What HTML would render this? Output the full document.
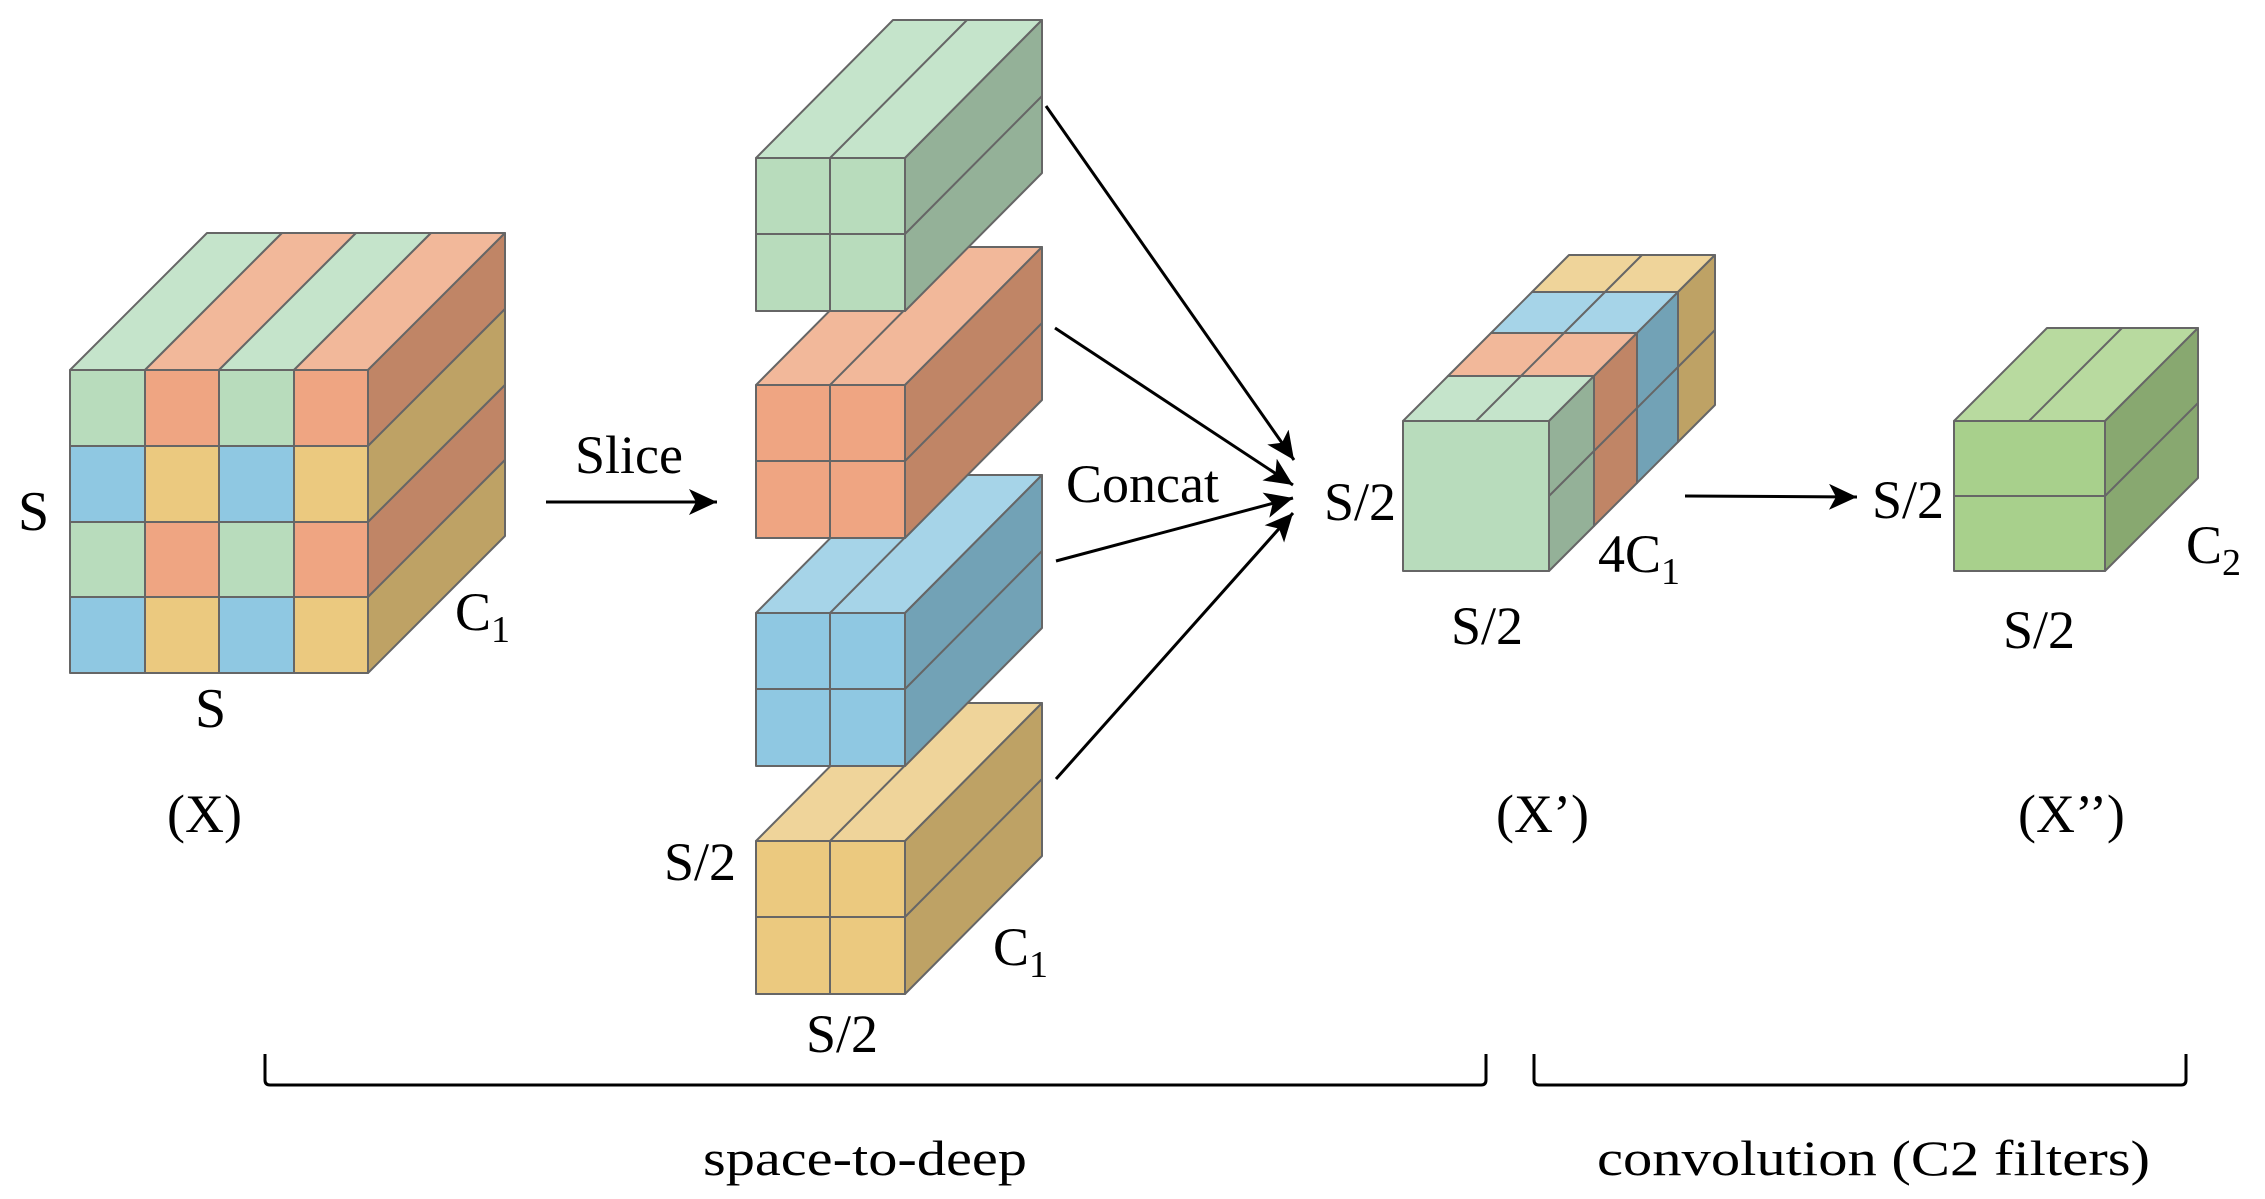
<!DOCTYPE html>
<html><head><meta charset="utf-8"><style>
html,body{margin:0;padding:0;background:#fff;}
svg{display:block;}
text{font-family:"Liberation Serif","DejaVu Serif","Noto Serif CJK SC",serif;fill:#000;}
</style></head><body>
<svg width="2265" height="1199" viewBox="0 0 2265 1199" xmlns="http://www.w3.org/2000/svg">
<defs>
<marker id="ah" markerUnits="userSpaceOnUse" markerWidth="32" markerHeight="30" refX="28" refY="13" orient="auto">
<path d="M0,0 L28,13 L0,26 L7,13 Z" fill="#000"/>
</marker>
</defs>
<g stroke="#666" stroke-width="2" stroke-linejoin="round">
<polygon points="70,370 145,370 282,233 207,233" fill="#c5e4cb"/>
<polygon points="145,370 219,370 356,233 282,233" fill="#f2b89a"/>
<polygon points="219,370 294,370 431,233 356,233" fill="#c5e4cb"/>
<polygon points="294,370 368,370 505,233 431,233" fill="#f2b89a"/>
<polygon points="368,370 368,446 505,309 505,233" fill="#c08566"/>
<polygon points="368,446 368,522 505,385 505,309" fill="#bea265"/>
<polygon points="368,522 368,597 505,460 505,385" fill="#c08566"/>
<polygon points="368,597 368,673 505,536 505,460" fill="#bea265"/>
<rect x="70" y="370" width="75" height="76" fill="#b8dcbc"/><rect x="145" y="370" width="74" height="76" fill="#efa582"/><rect x="219" y="370" width="75" height="76" fill="#b8dcbc"/><rect x="294" y="370" width="74" height="76" fill="#efa582"/>
<rect x="70" y="446" width="75" height="76" fill="#8fc8e2"/><rect x="145" y="446" width="74" height="76" fill="#ebc97f"/><rect x="219" y="446" width="75" height="76" fill="#8fc8e2"/><rect x="294" y="446" width="74" height="76" fill="#ebc97f"/>
<rect x="70" y="522" width="75" height="75" fill="#b8dcbc"/><rect x="145" y="522" width="74" height="75" fill="#efa582"/><rect x="219" y="522" width="75" height="75" fill="#b8dcbc"/><rect x="294" y="522" width="74" height="75" fill="#efa582"/>
<rect x="70" y="597" width="75" height="76" fill="#8fc8e2"/><rect x="145" y="597" width="74" height="76" fill="#ebc97f"/><rect x="219" y="597" width="75" height="76" fill="#8fc8e2"/><rect x="294" y="597" width="74" height="76" fill="#ebc97f"/>
</g>

<g stroke="#666" stroke-width="2" stroke-linejoin="round">
<g transform="translate(0,841)">
<polygon points="756,0 905,0 1042,-138 893,-138" fill="#efd49a"/><line x1="830" y1="0" x2="967" y2="-138"/>
<polygon points="905,0 905,153 1042,15 1042,-138" fill="#bea265"/><line x1="905" y1="76" x2="1042" y2="-62"/>
<rect x="756" y="0" width="149" height="153" fill="#ebc97f"/><line x1="756" y1="76" x2="905" y2="76"/><line x1="830" y1="0" x2="830" y2="153"/>
</g>
<g transform="translate(0,613)">
<polygon points="756,0 905,0 1042,-138 893,-138" fill="#a6d4e8"/><line x1="830" y1="0" x2="967" y2="-138"/>
<polygon points="905,0 905,153 1042,15 1042,-138" fill="#72a2b6"/><line x1="905" y1="76" x2="1042" y2="-62"/>
<rect x="756" y="0" width="149" height="153" fill="#8fc8e2"/><line x1="756" y1="76" x2="905" y2="76"/><line x1="830" y1="0" x2="830" y2="153"/>
</g>
<g transform="translate(0,385)">
<polygon points="756,0 905,0 1042,-138 893,-138" fill="#f2b89a"/><line x1="830" y1="0" x2="967" y2="-138"/>
<polygon points="905,0 905,153 1042,15 1042,-138" fill="#c08566"/><line x1="905" y1="76" x2="1042" y2="-62"/>
<rect x="756" y="0" width="149" height="153" fill="#efa582"/><line x1="756" y1="76" x2="905" y2="76"/><line x1="830" y1="0" x2="830" y2="153"/>
</g>
<g transform="translate(0,158)">
<polygon points="756,0 905,0 1042,-138 893,-138" fill="#c5e4cb"/><line x1="830" y1="0" x2="967" y2="-138"/>
<polygon points="905,0 905,153 1042,15 1042,-138" fill="#94b198"/><line x1="905" y1="76" x2="1042" y2="-62"/>
<rect x="756" y="0" width="149" height="153" fill="#b8dcbc"/><line x1="756" y1="76" x2="905" y2="76"/><line x1="830" y1="0" x2="830" y2="153"/>
</g>
</g>

<g stroke="#666" stroke-width="2" stroke-linejoin="round">
<polygon points="1532,292 1678,292 1715,255 1569,255" fill="#efd49a"/><line x1="1605" y1="292" x2="1642" y2="255"/>
<polygon points="1678,292 1678,442 1715,405 1715,255" fill="#bea265"/><line x1="1678" y1="367" x2="1715" y2="330"/>
<polygon points="1491,333 1637,333 1678,292 1532,292" fill="#a6d4e8"/><line x1="1564" y1="333" x2="1605" y2="292"/>
<polygon points="1637,333 1637,483 1678,442 1678,292" fill="#72a2b6"/><line x1="1637" y1="408" x2="1678" y2="367"/>
<polygon points="1448,376 1594,376 1637,333 1491,333" fill="#f2b89a"/><line x1="1521" y1="376" x2="1564" y2="333"/>
<polygon points="1594,376 1594,526 1637,483 1637,333" fill="#c08566"/><line x1="1594" y1="451" x2="1637" y2="408"/>
<polygon points="1403,421 1549,421 1594,376 1448,376" fill="#c5e4cb"/><line x1="1476" y1="421" x2="1521" y2="376"/>
<polygon points="1549,421 1549,571 1594,526 1594,376" fill="#94b198"/><line x1="1549" y1="496" x2="1594" y2="451"/>
<rect x="1403" y="421" width="146" height="150" fill="#b8dcbc"/>
</g>

<g stroke="#666" stroke-width="2" stroke-linejoin="round">
<polygon points="1954,421 2105,421 2198,328 2047,328" fill="#b8da9f"/><line x1="2029" y1="421" x2="2122" y2="328"/>
<polygon points="2105,421 2105,571 2198,478 2198,328" fill="#88a870"/><line x1="2105" y1="496" x2="2198" y2="403"/>
<rect x="1954" y="421" width="151" height="150" fill="#a8d08c"/><line x1="1954" y1="496" x2="2105" y2="496"/>
</g>

<g stroke="#000" stroke-width="3" fill="none">
<line x1="546" y1="502" x2="717" y2="502" marker-end="url(#ah)"/>
<line x1="1046" y1="106" x2="1294" y2="460" marker-end="url(#ah)"/>
<line x1="1055" y1="328" x2="1293" y2="485" marker-end="url(#ah)"/>
<line x1="1056" y1="561" x2="1293" y2="498" marker-end="url(#ah)"/>
<line x1="1056" y1="779" x2="1293" y2="513" marker-end="url(#ah)"/>
<line x1="1685" y1="496" x2="1857" y2="497" marker-end="url(#ah)"/>
</g>

<g stroke="#000" stroke-width="3" fill="none">
<path d="M265,1054 L265,1080 Q265,1085 270,1085 L1481,1085 Q1486,1085 1486,1080 L1486,1054"/>
<path d="M1534,1054 L1534,1080 Q1534,1085 1539,1085 L2181,1085 Q2186,1085 2186,1080 L2186,1054"/>
</g>

<g font-size="54">
<text x="18" y="530" font-size="56">S</text>
<text x="195" y="727" font-size="56">S</text>
<text x="455" y="630">C<tspan font-size="38" dy="12">1</tspan></text>
<text x="575" y="473">Slice</text>
<text x="1066" y="502">Concat</text>
<text x="664" y="880">S/2</text>
<text x="993" y="965">C<tspan font-size="38" dy="12">1</tspan></text>
<text x="806" y="1052">S/2</text>
<text x="1324" y="520">S/2</text>
<text x="1598" y="572">4C<tspan font-size="38" dy="12">1</tspan></text>
<text x="1451" y="644">S/2</text>
<text x="1872" y="518">S/2</text>
<text x="2186" y="563">C<tspan font-size="38" dy="12">2</tspan></text>
<text x="2003" y="648">S/2</text>
<text x="167" y="832">(X)</text>
<text x="1496" y="832">(X’)</text>
<text x="2018" y="832">(X’’)</text>
<text x="703" y="1175" font-size="50" textLength="324" lengthAdjust="spacingAndGlyphs">space-to-deep</text>
<text x="1597" y="1175" font-size="50" textLength="553" lengthAdjust="spacingAndGlyphs">convolution (C2 filters)</text>
</g>
</svg>
</body></html>
